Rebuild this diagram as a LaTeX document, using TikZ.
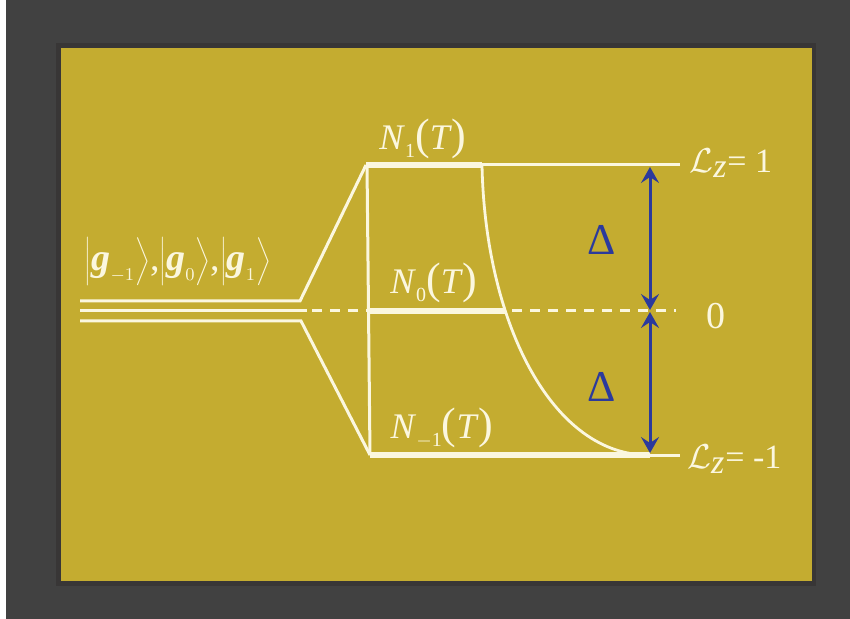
\documentclass[tikz,border=0pt]{standalone}
\usepackage{fontspec}
\setmainfont{Liberation Serif}
\usetikzlibrary{arrows.meta}
\definecolor{bgdark}{HTML}{414141}
\definecolor{shadow}{HTML}{383636}
\definecolor{gold}{HTML}{C4AC30}
\definecolor{cream}{HTML}{FBF7DF}
\definecolor{deltablue}{HTML}{2B3A9C}
\tikzset{
  thin level/.style={draw=cream, line width=1.5pt},
  thick level/.style={draw=cream, line width=2.6pt},
  lbl/.style={text=cream, inner sep=0pt, font=\fontsize{18}{20}\selectfont},
  dlbl/.style={text=deltablue, inner sep=0pt, font=\fontsize{22}{24}\selectfont},
  gap arrow/.style={draw=deltablue, line width=1.5pt, {Stealth[length=8pt,width=9pt,inset=3pt]}-{Stealth[length=8pt,width=9pt,inset=3pt]}},
  dashline/.style={draw=cream, line width=1.5pt, dash pattern=on 5pt off 4pt},
}
\newcommand{\bigpar}[1]{{\fontsize{22}{22}\selectfont #1}}
\newcommand{\nsub}[1]{\raisebox{-0.45ex}{\fontsize{10}{10}\selectfont #1}}
\newcommand{\ketg}[1]{$\bigg|\textbf{\textit{g}}_{\scriptscriptstyle #1}\bigg\rangle$}
\begin{document}
\begin{tikzpicture}[x=0.5pt,y=-0.5pt]
\useasboundingbox (0,0) rectangle (850,619);
\fill[bgdark] (0,0) rectangle (850,619);
\fill[white] (0,0) rectangle (6,619);
\fill[shadow] (56,43) rectangle (816,586);
\fill[gold] (61,48) rectangle (812,581);

% coordinates
\coordinate (split) at (300,301);
\coordinate (top1) at (366,165);
\coordinate (top2) at (482,165);
\coordinate (topend) at (680,165);
\coordinate (mid1) at (367,311);
\coordinate (mid2) at (505,311);
\coordinate (midend) at (676,311);
\coordinate (bot1) at (370,455);
\coordinate (bot2) at (645,455);
\coordinate (botend) at (680,455);

% three degenerate lines
\draw[thin level] (80,301) -- (split) -- (top1);
\draw[thin level] (80,311) -- (307,311);
\draw[thin level] (80,321) -- (301,321) -- (bot1);
\draw[dashline] (312,311) -- (mid1);

% vertical line
\draw[thin level] (367,165) -- (370,455);

% levels
\draw[thick level] (top1) -- (top2);
\draw[thin level] (top2) -- (topend);
\draw[thick level] (mid1) -- (mid2);
\draw[dashline] (512,311) -- (midend);
\draw[thick level] (bot1) -- (650,455);
\draw[thin level] (650,455) -- (botend);

% population curve
\draw[thin level, line width=1.4pt] (top2) .. controls (485,320) and (550,452) .. (bot2);

% gap arrows
\draw[gap arrow] (650,167) -- (650,310);
\draw[gap arrow] (650,312) -- (650,453);

% labels
\node[lbl] (ket) at (178,262) {\fontsize{19}{22}\selectfont\ketg{-1},\ketg{0},\ketg{1}};
\node[lbl] (n1) at (423,139) {\textit{N}\nsub{1}\bigpar{(}\textit{T}\bigpar{)}};
\node[lbl] (n0) at (434,283) {\textit{N}\nsub{0}\bigpar{(}\textit{T}\bigpar{)}};
\node[lbl] (nm1) at (442,428) {\textit{N}\nsub{$-$1}\bigpar{(}\textit{T}\bigpar{)}};
\node[dlbl] (d1) at (602,240) {Δ};
\node[dlbl] (d2) at (602,387) {Δ};
\node[lbl, anchor=west, font=\fontsize{17}{20}\selectfont] (lz1) at (689,163) {$\mathcal{L}_{\textit{z}}$= 1};
\node[lbl, font=\fontsize{19}{20}\selectfont] (l0) at (716,316) {0};
\node[lbl, anchor=west, font=\fontsize{17}{20}\selectfont] (lzm1) at (687,459) {$\mathcal{L}_{\textit{z}}$= -1};
\end{tikzpicture}
\end{document}
